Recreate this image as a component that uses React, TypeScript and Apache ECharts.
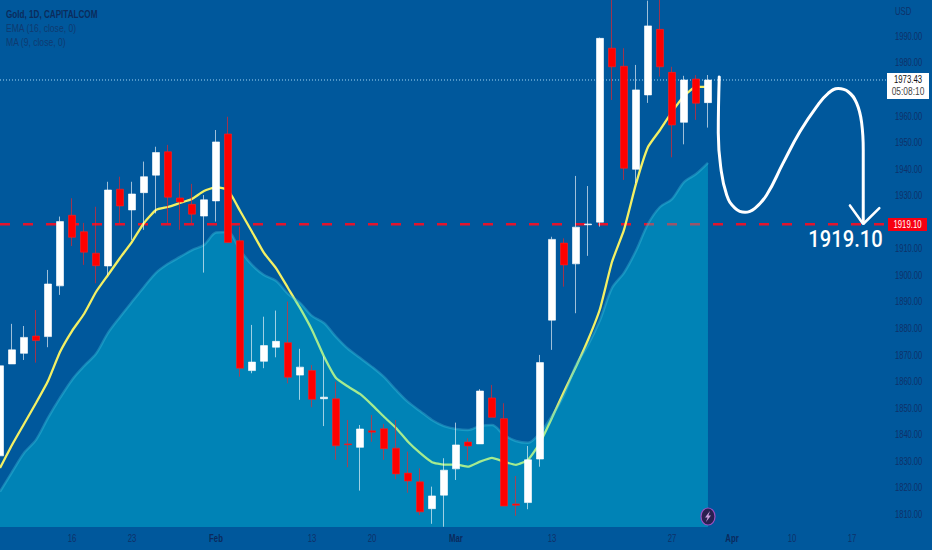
import React, { useEffect, useRef } from "react";
import * as echarts from "echarts";

// Prices (bar index 0 .. 59)
const opens = [1831.9,1866.5,1870.5,1877.0,1876.8,1895.9,1922.5,1916.3,1908.2,1903.4,1932.3,1924.5,1931.0,1937.6,1946.4,1929.0,1926.6,1922.2,1927.9,1953.1,1912.9,1864.0,1867.5,1872.8,1874.5,1862.3,1864.0,1853.4,1853.4,1836.4,1835.1,1841.3,1842.1,1834.8,1825.4,1822.1,1812.0,1817.1,1827.0,1837.1,1836.4,1853.7,1845.9,1813.8,1814.3,1830.7,1883.0,1912.0,1904.2,1918.9,1919.9,1985.4,1978.6,1939.8,1967.8,1992.5,1976.3,1957.5,1973.8,1964.9];
const closes = [1865.8,1871.8,1876.5,1875.3,1896.6,1920.1,1914.2,1908.6,1903.5,1932.0,1926.0,1930.5,1937.0,1946.1,1929.3,1927.5,1922.9,1928.3,1950.1,1912.2,1864.9,1867.2,1873.4,1875.0,1861.5,1865.3,1853.2,1854.0,1835.7,1836.1,1842.0,1840.8,1834.6,1825.1,1822.4,1810.8,1816.8,1826.5,1836.0,1835.6,1856.3,1846.4,1813.0,1813.3,1830.4,1867.0,1913.4,1903.8,1918.0,1919.2,1989.1,1978.4,1940.2,1969.7,1993.8,1978.4,1956.5,1973.4,1964.7,1973.4];
const lows = [1831.9,1866.5,1868.0,1867.0,1872.8,1892.5,1910.9,1903.8,1896.9,1900.0,1919.5,1913.2,1917.0,1923.2,1919.5,1917.0,1919.6,1900.9,1920.1,1912.1,1861.7,1863.0,1864.9,1869.0,1859.2,1853.0,1850.2,1843.1,1830.4,1827.6,1818.8,1837.2,1830.4,1823.1,1818.0,1809.6,1806.3,1805.2,1822.8,1830.1,1836.4,1846.4,1813.0,1809.3,1811.8,1827.8,1871.8,1895.6,1885.6,1907.2,1918.2,1965.9,1935.8,1934.6,1964.8,1974.7,1944.3,1949.2,1958.4,1955.5];
const highs = [1869.9,1881.6,1880.8,1886.8,1901.9,1922.0,1928.9,1919.6,1925.7,1935.1,1937.0,1935.1,1942.7,1948.3,1949.0,1934.8,1934.3,1930.1,1954.6,1959.6,1918.2,1881.2,1884.3,1886.6,1890.0,1872.2,1866.1,1869.3,1859.8,1845.4,1843.5,1847.3,1843.9,1845.4,1833.5,1827.2,1820.3,1831.0,1844.4,1838.5,1857.0,1858.6,1851.7,1824.3,1835.6,1869.9,1914.4,1913.8,1937.3,1933.5,1989.4,2005.4,1985.4,1979.1,2003.3,2005.0,1978.4,1975.0,1975.3,1975.3];
const ema16 = [1827.3,1836.0,1843.9,1851.8,1860.1,1871.0,1878.9,1885.3,1893.6,1900.0,1906.4,1912.5,1919.6,1924.5,1925.6,1927.1,1928.6,1931.6,1933.1,1932.0,1924.2,1916.3,1908.3,1902.6,1895.1,1887.6,1879.3,1869.3,1861.2,1858.0,1855.2,1851.1,1846.6,1842.4,1837.2,1833.0,1829.5,1828.6,1828.6,1827.8,1829.7,1831.1,1829.7,1828.5,1830.4,1836.8,1846.2,1856.0,1865.4,1875.5,1887.2,1904.9,1917.0,1934.3,1948.2,1954.6,1961.4,1967.4,1970.8,1970.8];
const ma9 = [1818.4,1825.8,1833.0,1837.9,1846.2,1853.7,1860.5,1865.7,1870.3,1878.2,1884.2,1889.9,1895.5,1900.8,1904.2,1906.8,1909.4,1911.3,1916.0,1916.2,1909.4,1903.8,1900.0,1897.8,1892.9,1889.5,1884.6,1881.9,1876.7,1872.2,1868.8,1865.4,1861.6,1856.7,1852.2,1848.8,1845.4,1843.1,1842.0,1841.6,1843.1,1843.5,1839.8,1837.5,1836.8,1840.5,1846.9,1854.8,1866.1,1873.6,1883.0,1895.1,1900.8,1909.1,1919.2,1925.6,1928.6,1935.0,1938.0,1942.2];

// Hand-drawn forecast, in bar index / price
const sketchBars = [59.94,59.86,60.06,60.56,61.25,62.09,62.91,63.89,65.27,66.67,68.06,69.02,69.85,70.69,71.39,71.81,71.94,71.94];
const sketchPrices = [1974.6,1953.5,1940.7,1930.1,1925.2,1923.6,1925.1,1930.1,1942.2,1954,1963.4,1968.4,1970.2,1969,1964.7,1957.2,1947.1,1919.6];
const arrowBars = [70.83,71.94,73.28];
const arrowPrices = [1926.2,1919.2,1925.2];

const xTickBars = [6,11,18,26,31,38,46,56,61,66,71];
const xTickLabels = ["16","23","Feb","13","20","Mar","13","27","Apr","10","17"];
const monthLabels = ["Feb","Mar","Apr"];
const yTickValues = [1810,1820,1830,1840,1850,1860,1870,1880,1890,1900,1910,1930,1940,1950,1960,1980,1990];

const targetPrice = 1919.1;
const lastPrice = 1973.43;
const countdown = "05:08:10";
const legendLines = ["Gold, 1D, CAPITALCOM","EMA (16, close, 0)","MA (9, close, 0)"];
const axisUnit = "USD";

const Y_MIN = 1805.1;
const Y_MAX = 2003.55;
const X_MAX = 73.92;
const FONT = "'Liberation Sans', sans-serif";
const AXIS_TEXT = "#0e3169";

const pairs = (xs: number[], ys: number[]) => xs.map((x, i) => [x, ys[i]]);

// The original's condensed face is not installed: condense the text horizontally instead.
const squeezed = (text: string, x: number, y: number, size: number, scaleX: number, fill: string, extra: any = {}) => ({
  type: "text", x, y, scaleX, z: 11,
  style: { text, verticalAlign: "middle", fontFamily: FONT, fontSize: size, fill, ...extra },
});

export default function App() {
  const ref = useRef<HTMLDivElement>(null);
  useEffect(() => {
    const chart = echarts.init(ref.current!, undefined, { renderer: "svg" });
    const bars = opens.map((_, i) => i);
    chart.setOption({
      animation: false,
      backgroundColor: "#00589c",
      grid: { left: 0, right: 45, top: 0, bottom: 23 },
      xAxis: {
        type: "value", min: 0, max: X_MAX,
        axisLine: { show: false }, axisTick: { show: false }, splitLine: { show: false }, axisLabel: { show: false },
      },
      yAxis: {
        type: "value", position: "right", min: Y_MIN, max: Y_MAX,
        axisLine: { show: false }, axisTick: { show: false }, splitLine: { show: false }, axisLabel: { show: false },
      },
      series: [
        {
          name: "Target", type: "line", z: 2, symbol: "none", silent: true,
          data: [[0, targetPrice], [X_MAX, targetPrice]],
          lineStyle: { color: "#e3142d", width: 2.5, type: [10, 13] },
        },
        {
          name: "Last", type: "line", z: 2, symbol: "none", silent: true,
          data: [[0, lastPrice], [X_MAX, lastPrice]],
          lineStyle: { color: "#a5d8f5", width: 1, type: [1, 2] },
        },
        {
          name: "EMA", type: "line", z: 2, symbol: "none", smooth: 0.15,
          data: pairs(bars, ema16),
          lineStyle: { color: "#f3f064", width: 2.3 },
        },
        {
          name: "MA", type: "line", z: 3, symbol: "none", smooth: 0.3,
          data: pairs(bars, ma9),
          lineStyle: { color: "rgba(70,200,225,0.35)", width: 2.5 },
          areaStyle: { color: "rgba(0,225,236,0.32)", origin: "start", opacity: 1 },
        },
        {
          name: "Gold", type: "candlestick", z: 4, barWidth: 8,
          data: bars.map((i) => [i, opens[i], closes[i], lows[i], highs[i]]),
          itemStyle: {
            color: "#ffffff", color0: "#ff0000",
            borderColor: "rgba(255,255,255,0.62)", borderColor0: "rgba(255,30,30,0.62)",
            borderWidth: 1,
          },
        },
        {
          name: "Forecast", type: "line", z: 5, symbol: "none", smooth: 0.45,
          data: pairs(sketchBars, sketchPrices),
          lineStyle: { color: "#ffffff", width: 3, cap: "round", join: "round" },
        },
        {
          name: "Arrow", type: "line", z: 5, symbol: "none",
          data: pairs(arrowBars, arrowPrices),
          lineStyle: { color: "#ffffff", width: 2.5, cap: "round" },
        },
      ],
    });
    const xPx = (v: number) => chart.convertToPixel({ xAxisIndex: 0 }, v) as number;
    const yPx = (v: number) => chart.convertToPixel({ yAxisIndex: 0 }, v) as number;
    chart.setOption({
      graphic: [
        ...yTickValues.map((v) => squeezed(v.toFixed(2), 895, yPx(v) + 0.5, 10.5, 0.72, AXIS_TEXT)),
        ...xTickBars.map((b, i) => {
          const s = xTickLabels[i];
          const month = monthLabels.includes(s);
          return squeezed(s, xPx(b), 538.5, 10.5, 0.74, month ? "#0b2a5c" : AXIS_TEXT, { align: "center", fontWeight: month ? "bold" : "normal" });
        }),
        ...legendLines.map((t, i) =>
          squeezed(t, 6, 14 + i * 14, 11, i === 0 ? 0.74 : 0.78, i === 0 ? "#0b2c5c" : "#0f3a70", { fontWeight: i === 0 ? "bold" : "normal" })),
        squeezed(axisUnit, 895, 11.5, 10.5, 0.74, AXIS_TEXT),
        { type: "rect", z: 10, shape: { x: 887, y: 73, width: 42, height: 26 }, style: { fill: "#ffffff" } },
        squeezed(lastPrice.toFixed(2), 908, 80, 10.5, 0.74, "#111111", { align: "center" }),
        squeezed(countdown, 908, 91, 10.5, 0.8, "#444444", { align: "center" }),
        { type: "rect", z: 10, shape: { x: 888, y: 218, width: 39, height: 13 }, style: { fill: "#f70011" } },
        squeezed(targetPrice.toFixed(2), 907.5, 224.7, 10.5, 0.74, "#ffffff", { align: "center" }),
        squeezed(targetPrice.toFixed(2), 845.5, 238, 24, 0.84, "#ffffff", { align: "center", fontFamily: "Roboto", fontWeight: 500 }),
        { type: "ellipse", z: 10, shape: { cx: 708, cy: 516.5, rx: 7, ry: 8.5 }, style: { fill: "#2a2050", stroke: "#9d4fc0", lineWidth: 1.2 } },
        { type: "polygon", z: 11, shape: { points: [[710, 511], [705, 517.5], [707.6, 517.5], [706, 522], [711, 515.6], [708.4, 515.6]] }, style: { fill: "#c8a0dc" } },
      ],
    });
    return () => chart.dispose();
  }, []);
  return <div ref={ref} style={{ position: "fixed", left: 0, top: 0, width: 932, height: 550 }} />;
}
